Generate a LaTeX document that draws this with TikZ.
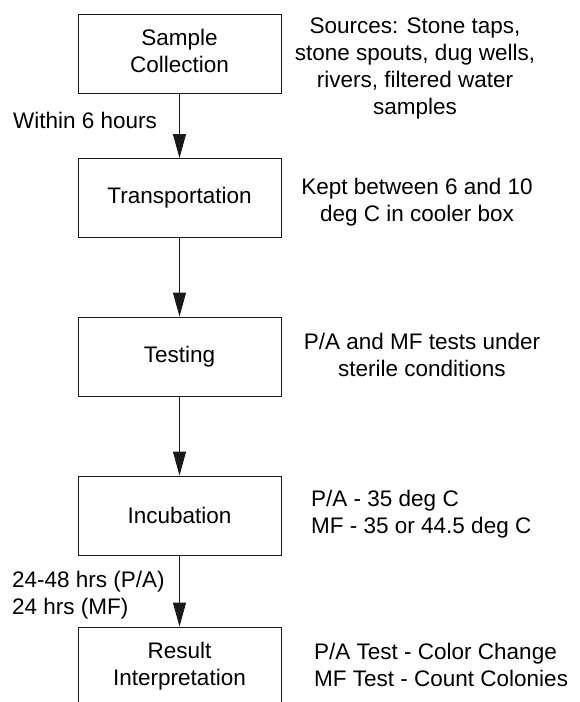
\documentclass[tikz,border=0pt]{standalone}
\usepackage{fontspec}
\setmainfont{Liberation Sans}
\usetikzlibrary{shapes,arrows.meta}

\begin{document}
\begin{tikzpicture}[x=1pt,y=-1pt]

\tikzstyle{stage} = [draw, line width=0.9, draw=black!90, minimum width=203, minimum height=79,
inner sep=0, font=\fontsize{22.5}{27}\selectfont]
\tikzstyle{note} = [inner sep=0, font=\fontsize{22.5}{27}\selectfont]
\tikzstyle{flow} = [-{Triangle[length=24pt,width=13pt]}, line width=0.9, draw=black!90]

\useasboundingbox (0,0) rectangle (579,702);
\clip (0,0) rectangle (579,702);

% flow chart boxes
\node [stage] (sample) at (179.5,53.5) {\begin{tabular}{c} Sample\\ Collection\end{tabular}};
\node [stage] (transport) at (179.5,198) {Transportation};
\node [stage] (testing) at (179.5,356.5) {Testing};
\node [stage] (incub) at (179.5,515.5) {Incubation};
\node [stage] (result) at (179.5,666.5) {\begin{tabular}{c} Result\\ Interpretation\end{tabular}};

% notes on the right
\node [note] (sources) at (415,69) {\begin{tabular}{c} Sources: Stone taps,\\ stone spouts, dug wells,\\ rivers, filtered water\\ samples\end{tabular}};
\node [note] (cooler) at (417,202.5) {\begin{tabular}{c} Kept between 6 and 10\\ deg C in cooler box\end{tabular}};
\node [note] (sterile) at (422,358) {\begin{tabular}{c} P/A and MF tests under\\ sterile conditions\end{tabular}};
\node [note, anchor=west] (temps) at (305,514.5) {\begin{tabular}{l} P/A - 35 deg C\\ MF - 35 or 44.5 deg C\end{tabular}};
\node [note, anchor=west] (reading) at (308,668) {\begin{tabular}{l} P/A Test - Color Change\\ MF Test - Count Colonies\end{tabular}};

% times on the left
\node [note, anchor=base west] (hours) at (13,128) {Within 6 hours};
\node [note, anchor=west] (hrs) at (6,596) {\begin{tabular}{l} 24-48 hrs (P/A)\\ 24 hrs (MF)\end{tabular}};

\draw [flow] (sample) -- (transport);
\draw [flow] (transport) -- (testing);
\draw [flow] (testing) -- (incub);
\draw [flow] (incub) -- (result);

\end{tikzpicture}
\end{document}
